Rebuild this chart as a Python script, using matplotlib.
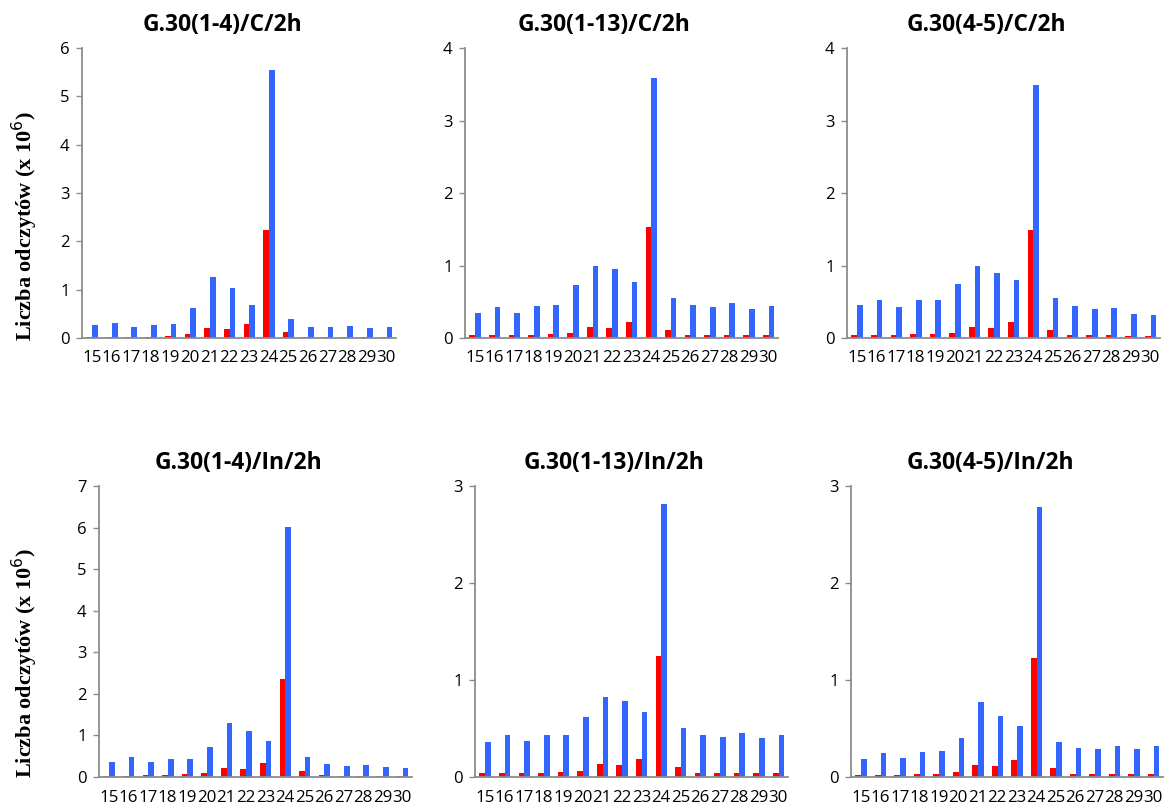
import matplotlib
matplotlib.use("Agg")
import matplotlib.pyplot as plt
import numpy as np

categories = [str(i) for i in range(15, 31)]

titles = ["G.30(1-4)/C/2h", "G.30(1-13)/C/2h", "G.30(4-5)/C/2h",
          "G.30(1-4)/In/2h", "G.30(1-13)/In/2h", "G.30(4-5)/In/2h"]

red_1 = [0.02, 0.03, 0.03, 0.03, 0.05, 0.08, 0.21, 0.18, 0.29, 2.23, 0.13, 0.03, 0.02, 0.015, 0.015, 0.015]
blue_1 = [0.26, 0.31, 0.23, 0.26, 0.29, 0.62, 1.26, 1.03, 0.69, 5.55, 0.39, 0.23, 0.23, 0.25, 0.21, 0.23]

red_2 = [0.04, 0.04, 0.04, 0.045, 0.05, 0.07, 0.15, 0.14, 0.22, 1.53, 0.11, 0.045, 0.04, 0.04, 0.04, 0.04]
blue_2 = [0.34, 0.43, 0.34, 0.44, 0.46, 0.73, 0.99, 0.95, 0.77, 3.58, 0.55, 0.46, 0.43, 0.48, 0.40, 0.44]

red_3 = [0.04, 0.045, 0.045, 0.05, 0.055, 0.07, 0.15, 0.14, 0.22, 1.49, 0.105, 0.045, 0.035, 0.035, 0.03, 0.025]
blue_3 = [0.45, 0.52, 0.43, 0.52, 0.52, 0.75, 0.99, 0.90, 0.80, 3.49, 0.55, 0.44, 0.40, 0.41, 0.33, 0.32]

red_4 = [0.03, 0.03, 0.05, 0.05, 0.07, 0.10, 0.22, 0.20, 0.34, 2.35, 0.15, 0.04, 0.03, 0.02, 0.02, 0.02]
blue_4 = [0.36, 0.47, 0.35, 0.43, 0.43, 0.71, 1.29, 1.10, 0.86, 6.02, 0.47, 0.31, 0.27, 0.28, 0.24, 0.22]

red_5 = [0.04, 0.04, 0.04, 0.045, 0.05, 0.065, 0.13, 0.12, 0.19, 1.25, 0.10, 0.045, 0.04, 0.04, 0.04, 0.04]
blue_5 = [0.36, 0.43, 0.37, 0.43, 0.43, 0.62, 0.82, 0.78, 0.67, 2.81, 0.51, 0.43, 0.41, 0.45, 0.40, 0.43]

red_6 = [0.02, 0.025, 0.025, 0.03, 0.03, 0.05, 0.12, 0.11, 0.18, 1.23, 0.09, 0.03, 0.03, 0.03, 0.03, 0.03]
blue_6 = [0.19, 0.25, 0.20, 0.26, 0.27, 0.40, 0.77, 0.63, 0.53, 2.78, 0.36, 0.30, 0.29, 0.32, 0.29, 0.32]

y_max = [6, 4, 4, 7, 3, 3]

reds = [red_1, red_2, red_3, red_4, red_5, red_6]
blues = [blue_1, blue_2, blue_3, blue_4, blue_5, blue_6]

W, H = 1167, 810
fig = plt.figure(figsize=(W / 100, H / 100), dpi=100)

# axes boxes in pixels: left, right, top, bottom
boxes = [(82, 396, 48, 338), (465, 778, 48, 338), (847, 1160, 48, 338),
         (99, 412, 486, 777), (475, 788, 486, 777), (851, 1163, 486, 777)]

RED = "#ff0000"
BLUE = "#3366ff"
GRAY = "#8c8c8c"
font = ["Open Sans", "DejaVu Sans"]

for k in range(6):
    l, r, t, b = boxes[k]
    ax = fig.add_axes([l / W, 1 - b / H, (r - l) / W, (b - t) / H])
    x = np.arange(len(categories))
    w = 0.29
    ax.bar(x - w / 2 + 0.02, reds[k], width=w, color=RED, edgecolor="none")
    ax.bar(x + w / 2 + 0.02, blues[k], width=w, color=BLUE, edgecolor="none")
    ax.set_xlim(-0.5, len(categories) - 0.5)
    ax.set_ylim(0, y_max[k])
    ax.set_yticks(range(0, y_max[k] + 1))
    ax.set_yticklabels([str(v) for v in range(0, y_max[k] + 1)], family=font, fontsize=12)
    ax.set_xticks(x)
    ax.set_xticklabels(categories, family=font, fontsize=12.2)
    ax.tick_params(axis="x", length=0, pad=9)
    ax.tick_params(axis="y", length=4, width=1, color=GRAY, pad=5)
    for s in ["top", "right"]:
        ax.spines[s].set_visible(False)
    for s in ["left", "bottom"]:
        ax.spines[s].set_color(GRAY)
        ax.spines[s].set_linewidth(1.3)
    cx = ((l + r) / 2 - 17 - l) / (r - l)
    ax.text(cx, 1 + 23 / (b - t), titles[k], transform=ax.transAxes,
            ha="center", va="center", family=font, fontweight="bold", fontsize=16.5)

for yc in [226, 663]:
    fig.text(25 / W, 1 - yc / H, r"Liczba odczytów (x 10$^{6}$)", rotation=90,
             ha="center", va="center", family=["Liberation Serif"], fontweight="bold",
             fontsize=16)

fig.savefig("out.png", dpi=100)
